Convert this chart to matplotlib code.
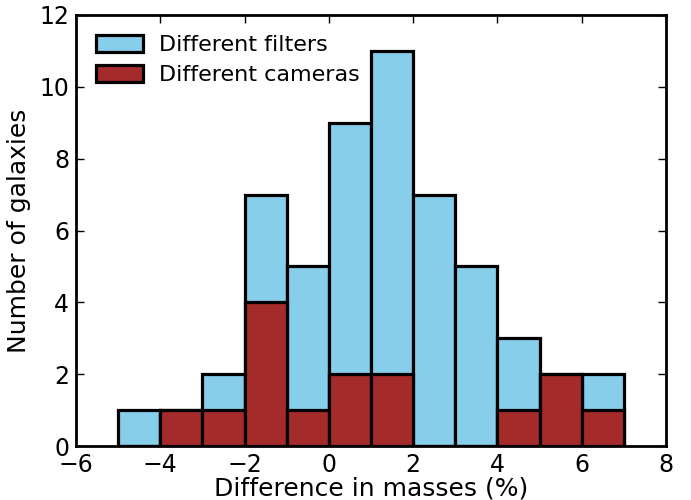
import numpy as np
import matplotlib.pyplot as plt

plt.rcParams['font.family'] = 'DejaVu Sans'

# Bin edges (difference in masses, %)
bin_edges = np.arange(-5, 8, 1)
bin_centres = bin_edges[:-1] + 0.5

# Counts per bin
filters_counts = [1, 1, 2, 7, 5, 9, 11, 7, 5, 3, 2, 2]
cameras_counts = [0, 1, 1, 4, 1, 2, 2, 0, 0, 1, 2, 1]


def main():
	fig = plt.figure(figsize=(6.91, 5.0), dpi=100)
	ax = fig.add_axes([76 / 691, 54 / 500, 590 / 691, 431 / 500])

	ax.hist(bin_centres, bins=bin_edges, weights=filters_counts,
			color='skyblue', edgecolor='black', linewidth=2.3,
			label='Different filters')
	ax.hist(bin_centres, bins=bin_edges, weights=cameras_counts,
			color='brown', edgecolor='black', linewidth=2.3,
			label='Different cameras')

	ax.set_xlim(-6, 8)
	ax.set_ylim(0, 12)
	ax.set_xticks(np.arange(-6, 9, 2))
	ax.set_yticks(np.arange(0, 13, 2))
	ax.tick_params(direction='in', top=True, right=True, length=6, width=1,
				   labelsize=17, pad=5)
	for s in ax.spines.values():
		s.set_linewidth(2)

	ax.set_xlabel('Difference in masses (%)', fontsize=18, labelpad=0)
	ax.set_ylabel('Number of galaxies', fontsize=18, labelpad=6)
	ax.legend(loc='upper left', frameon=False, fontsize=16,
			  handlelength=2.1, handleheight=0.8, handletextpad=0.75,
			  labelspacing=0.45)

	fig.savefig('out.png', dpi=100)


if __name__ == '__main__':
	main()
